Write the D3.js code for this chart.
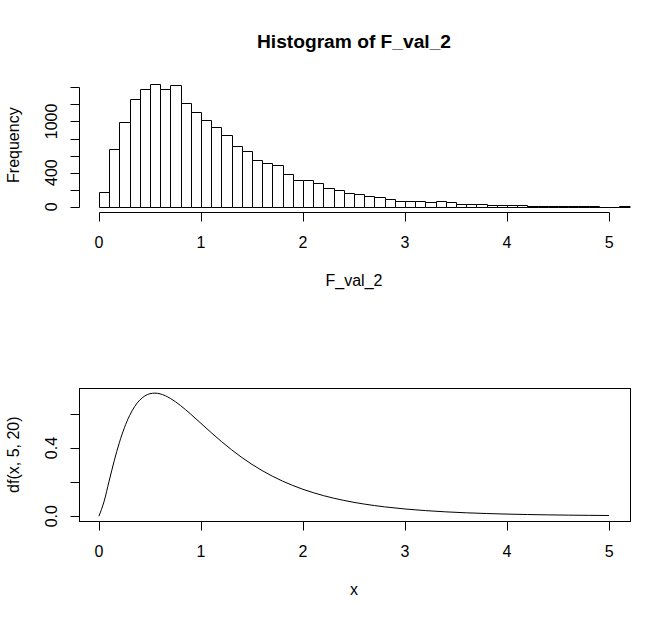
<!DOCTYPE html>
<html>
<head>
<meta charset="utf-8">
<script src="https://cdn.jsdelivr.net/npm/d3@7"></script>
<style>
  html, body { margin: 0; padding: 0; background: #fff; }
  text { font-family: "Liberation Sans", Arial, sans-serif; fill: #000; }
</style>
</head>
<body>
<script>
// ---------- data ----------
const histTitle = "Histogram of F_val_2";
const histXLabel = "F_val_2";
const histYLabel = "Frequency";
const binWidth = 0.1;
const histCounts = [176, 681, 998, 1268, 1385, 1444, 1385, 1432, 1221, 1115,
  1021, 939, 845, 716, 657, 552, 516, 493, 387, 317,
  317, 282, 223, 200, 164, 153, 129, 117, 94, 70,
  70, 70, 59, 70, 59, 35, 35, 35, 23, 23,
  23, 23, 12, 11, 10, 9, 8, 7, 6, 2,
  1, 9];
const xTicks = [0, 1, 2, 3, 4, 5];
const histYTicks = [0, 200, 400, 600, 800, 1000, 1200, 1400];
const histYTickLabels = {0: "0", 400: "400", 1000: "1000"};

const curveXLabel = "x";
const curveYLabel = "df(x, 5, 20)";
const curveX = [0, 0.05, 0.1, 0.15, 0.2, 0.25, 0.3, 0.35, 0.4, 0.45, 0.5, 0.55, 0.6,
  0.7, 0.8, 0.9, 1.0, 1.1, 1.2, 1.3, 1.4, 1.5, 1.6, 1.7, 1.8, 1.9, 2.0,
  2.2, 2.4, 2.6, 2.8, 3.0, 3.2, 3.4, 3.6, 3.8, 4.0, 4.2, 4.4, 4.6, 4.8, 5.0];
const curveY = [0, 0.0849, 0.2059, 0.3250, 0.4309, 0.5194, 0.5898, 0.6433, 0.6813, 0.7060, 0.7190, 0.7224, 0.7181,
  0.6916, 0.6495, 0.5989, 0.5449, 0.4908, 0.4387, 0.3899, 0.3449, 0.3041, 0.2675, 0.2348, 0.2058, 0.1803, 0.1578,
  0.1208, 0.0926, 0.0711, 0.0547, 0.0422, 0.0327, 0.0254, 0.0198, 0.0156, 0.0122, 0.0097, 0.0077, 0.0061, 0.0049, 0.0039];
const curveYTicks = [0, 0.2, 0.4, 0.6];
const curveYTickLabels = {0: "0.0", 0.4: "0.4"};

// ---------- layout ----------
const W = 670, H = 619;
const left = 78.5, right = 629.5;
const top1 = 78.7, bot1 = 211.6;
const top2 = 388.2, bot2 = 521.1;
const fs = 16, tickLen = 9;

const svg = d3.select("body").append("svg")
  .attr("width", W).attr("height", H)
  .style("display", "block");
svg.append("rect").attr("width", W).attr("height", H).attr("fill", "#fff");

const x = d3.scaleLinear().domain([-0.2, 5.2]).range([left, right]);

// ---------- top: histogram ----------
const hmax = d3.max(histCounts);
const y1 = d3.scaleLinear().domain([-0.04 * hmax, 1.04 * hmax]).range([bot1, top1]);

svg.append("clipPath").attr("id", "clip1").append("rect")
  .attr("x", left).attr("y", top1).attr("width", right - left + 1).attr("height", bot1 - top1);

const bars = svg.append("g").attr("clip-path", "url(#clip1)");
bars.selectAll("path").data(histCounts).join("path")
  .attr("d", (d, i) => {
    const x0 = Math.round(x(i * binWidth)) + 0.5;
    const x1 = Math.round(x((i + 1) * binWidth)) + 0.5;
    const yb = Math.round(y1(0)) + 0.5;
    const yt = Math.round(y1(d)) + 0.5;
    return `M${x0},${yb}V${yt}H${x1}V${yb}Z`;
  })
  .attr("fill", "#fff").attr("stroke", "#000").attr("stroke-width", 1);

function xAxis(yPos) {
  const g = svg.append("g").attr("transform", `translate(0,${Math.round(yPos) + 0.5})`);
  g.append("line").attr("x1", Math.round(x(xTicks[0])) + 0.5).attr("x2", Math.round(x(xTicks[xTicks.length - 1])) + 0.5)
    .attr("stroke", "#000");
  g.selectAll(".t").data(xTicks).join("line")
    .attr("x1", d => Math.round(x(d)) + 0.5).attr("x2", d => Math.round(x(d)) + 0.5)
    .attr("y1", 0).attr("y2", tickLen).attr("stroke", "#000");
  g.selectAll("text").data(xTicks).join("text")
    .attr("x", d => x(d)).attr("y", 35.5)
    .attr("text-anchor", "middle").attr("font-size", fs)
    .text(d => d);
}
function yAxis(scale, ticks, labels) {
  const g = svg.append("g").attr("transform", `translate(${Math.round(left) + 0.5},0)`);
  g.append("line").attr("y1", Math.round(scale(ticks[0])) + 0.5).attr("y2", Math.round(scale(ticks[ticks.length - 1])) + 0.5)
    .attr("stroke", "#000");
  g.selectAll(".t").data(ticks).join("line")
    .attr("y1", d => Math.round(scale(d)) + 0.5).attr("y2", d => Math.round(scale(d)) + 0.5)
    .attr("x1", 0).attr("x2", -tickLen).attr("stroke", "#000");
  g.selectAll("text").data(ticks.filter(t => labels[t] !== undefined)).join("text")
    .attr("transform", d => `translate(${56.5 - (Math.round(left) + 0.5)},${scale(d)}) rotate(-90)`)
    .attr("text-anchor", "middle").attr("font-size", fs)
    .text(d => labels[d]);
}

xAxis(bot1);
yAxis(y1, histYTicks, histYTickLabels);

svg.append("text").attr("x", (left + right) / 2).attr("y", 47.5)
  .attr("text-anchor", "middle").attr("font-size", 19.2).attr("font-weight", "bold")
  .text(histTitle);
svg.append("text").attr("x", (left + right) / 2).attr("y", 286)
  .attr("text-anchor", "middle").attr("font-size", fs).text(histXLabel);
svg.append("text").attr("transform", `translate(18.5,${(top1 + bot1) / 2}) rotate(-90)`)
  .attr("text-anchor", "middle").attr("font-size", fs).text(histYLabel);

// ---------- bottom: density curve ----------
const cmax = d3.max(curveY), cmin = d3.min(curveY);
const cr = cmax - cmin;
const y2 = d3.scaleLinear().domain([cmin - 0.04 * cr, cmax + 0.04 * cr]).range([bot2, top2]);

svg.append("rect")
  .attr("x", Math.round(left) + 0.5).attr("y", Math.round(top2) + 0.5)
  .attr("width", Math.round(right) - Math.round(left)).attr("height", Math.round(bot2) - Math.round(top2))
  .attr("fill", "none").attr("stroke", "#000");

const line = d3.line().x((d, i) => x(curveX[i])).y(d => y2(d)).curve(d3.curveMonotoneX);
svg.append("path").datum(curveY).attr("d", line)
  .attr("fill", "none").attr("stroke", "#000").attr("stroke-width", 1);

xAxis(bot2);
yAxis(y2, curveYTicks, curveYTickLabels);

svg.append("text").attr("x", (left + right) / 2).attr("y", 595)
  .attr("text-anchor", "middle").attr("font-size", fs).text(curveXLabel);
svg.append("text").attr("transform", `translate(18.5,${(top2 + bot2) / 2}) rotate(-90)`)
  .attr("text-anchor", "middle").attr("font-size", fs).text(curveYLabel);
</script>
</body>
</html>
